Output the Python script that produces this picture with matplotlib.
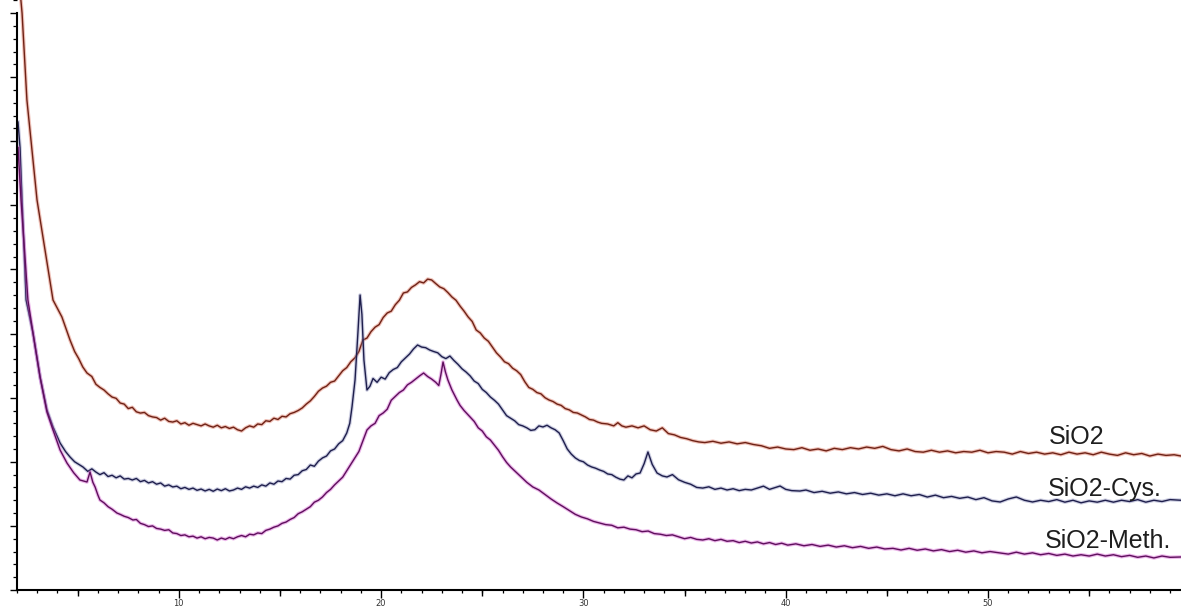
import numpy as np
import matplotlib
matplotlib.use("Agg")
import matplotlib.pyplot as plt
from matplotlib.ticker import MultipleLocator, NullFormatter

# ---------------- data (2-theta / counts) ----------------
tt_sio2 = [2.05, 2.25, 2.49, 2.99, 3.78, 4.22, 4.62, 4.85, 5.05, 5.25, 5.46, 5.7, 5.9,
           6.1, 6.3, 6.5, 6.7, 6.9, 7.1, 7.3, 7.5, 7.7, 7.9, 8.1, 8.3, 8.5, 8.7, 8.9,
           9.1, 9.3, 9.5, 9.7, 9.9, 10.1, 10.3, 10.5, 10.7, 10.9, 11.1, 11.3, 11.5,
           11.7, 11.9, 12.1, 12.3, 12.5, 12.7, 12.9, 13.1, 13.3, 13.5, 13.7, 13.9,
           14.1, 14.3, 14.5, 14.7, 14.9, 15.1, 15.3, 15.5, 15.7, 15.9, 16.1, 16.3,
           16.5, 16.7, 16.9, 17.1, 17.3, 17.5, 17.7, 17.9, 18.1, 18.3, 18.5, 18.7,
           18.9, 19.1, 19.3, 19.5, 19.7, 19.9, 20.1, 20.3, 20.5, 20.7, 20.9, 21.1,
           21.3, 21.5, 21.7, 21.9, 22.1, 22.3, 22.5, 22.7, 22.9, 23.1, 23.3, 23.5,
           23.7, 23.9, 24.1, 24.3, 24.5, 24.7, 24.9, 25.1, 25.3, 25.5, 25.7, 25.9,
           26.1, 26.3, 26.5, 26.7, 26.9, 27.1, 27.3, 27.5, 27.7, 27.9, 28.1, 28.3,
           28.5, 28.7, 28.9, 29.1, 29.3, 29.5, 29.7, 29.9, 30.1, 30.3, 30.5, 30.7,
           30.9, 31.2, 31.5, 31.7, 31.9, 32.1, 32.4, 32.7, 33.0, 33.3, 33.6, 33.9,
           34.2, 34.5, 34.8, 35.1, 35.4, 35.7, 36.0, 36.4, 36.8, 37.2, 37.6, 38.0,
           38.4, 38.8, 39.2, 39.6, 40.0, 40.4, 40.8, 41.2, 41.6, 42.0, 42.4, 42.8,
           43.2, 43.6, 44.0, 44.4, 44.8, 45.2, 45.6, 46.0, 46.4, 46.8, 47.2, 47.6,
           48.0, 48.4, 48.8, 49.2, 49.6, 50.0, 50.4, 50.8, 51.2, 51.6, 52.0, 52.4,
           52.8, 53.2, 53.6, 54.0, 54.4, 54.8, 55.2, 55.6, 56.0, 56.4, 56.8, 57.2,
           57.6, 58.0, 58.4, 58.8, 59.2, 59.54]
i_sio2 = [9700, 9001, 7644, 6084, 4524, 4259, 3900, 3720, 3610, 3480, 3385, 3330, 3210,
          3160, 3120, 3060, 3010, 2990, 2917, 2900, 2830, 2850, 2780, 2760, 2770, 2720,
          2700, 2690, 2650, 2680, 2630, 2620, 2640, 2590, 2610, 2570, 2600, 2580, 2560,
          2590, 2560, 2540, 2570, 2530, 2550, 2520, 2540, 2500, 2480, 2530, 2560, 2540,
          2590, 2580, 2640, 2630, 2680, 2660, 2710, 2700, 2750, 2770, 2800, 2840, 2900,
          2950, 3020, 3100, 3150, 3180, 3240, 3260, 3340, 3420, 3470, 3560, 3620, 3720,
          3900, 3930, 4030, 4100, 4140, 4250, 4321, 4350, 4450, 4520, 4633, 4650, 4720,
          4760, 4810, 4790, 4850, 4836, 4780, 4727, 4700, 4640, 4571, 4520, 4430, 4350,
          4260, 4190, 4056, 4010, 3930, 3880, 3790, 3700, 3635, 3560, 3530, 3460, 3420,
          3360, 3250, 3160, 3130, 3080, 3060, 3000, 2964, 2940, 2900, 2880, 2830, 2810,
          2770, 2761, 2730, 2700, 2660, 2650, 2620, 2600, 2590, 2560, 2610, 2560, 2540,
          2560, 2530, 2560, 2500, 2480, 2530, 2440, 2420, 2380, 2360, 2330, 2310, 2300,
          2320, 2290, 2310, 2280, 2300, 2270, 2250, 2210, 2230, 2200, 2190, 2220, 2180,
          2200, 2170, 2210, 2190, 2220, 2200, 2230, 2210, 2240, 2190, 2170, 2200, 2160,
          2150, 2180, 2150, 2170, 2140, 2160, 2150, 2180, 2140, 2160, 2150, 2120, 2160,
          2130, 2150, 2120, 2140, 2110, 2150, 2120, 2140, 2110, 2150, 2120, 2100, 2140,
          2110, 2130, 2090, 2120, 2100, 2110, 2090]

tt_cys = [2.05, 2.15, 2.25, 2.45, 2.79, 3.14, 3.48, 3.78, 4.13, 4.4, 4.62, 4.85, 5.05,
          5.26, 5.5, 5.7, 5.9, 6.1, 6.3, 6.5, 6.7, 6.9, 7.1, 7.3, 7.5, 7.7, 7.9, 8.1,
          8.3, 8.5, 8.7, 8.9, 9.1, 9.3, 9.5, 9.7, 9.9, 10.1, 10.3, 10.5, 10.7, 10.9,
          11.1, 11.3, 11.5, 11.7, 11.9, 12.1, 12.3, 12.5, 12.7, 12.9, 13.1, 13.3, 13.5,
          13.7, 13.9, 14.1, 14.3, 14.5, 14.7, 14.9, 15.1, 15.3, 15.5, 15.7, 15.9, 16.1,
          16.3, 16.5, 16.7, 16.9, 17.1, 17.3, 17.5, 17.7, 17.9, 18.1, 18.3, 18.45,
          18.56, 18.71, 18.85, 18.96, 19.05, 19.15, 19.3, 19.45, 19.6, 19.8, 20.0,
          20.2, 20.4, 20.6, 20.8, 21.0, 21.2, 21.4, 21.6, 21.8, 22.0, 22.2, 22.4, 22.6,
          22.8, 23.0, 23.2, 23.4, 23.6, 23.8, 24.0, 24.2, 24.4, 24.6, 24.8, 25.0, 25.2,
          25.4, 25.6, 25.8, 26.0, 26.2, 26.4, 26.6, 26.8, 27.0, 27.2, 27.4, 27.6, 27.8,
          28.0, 28.2, 28.4, 28.6, 28.8, 29.0, 29.2, 29.4, 29.6, 29.8, 30.0, 30.2, 30.4,
          30.6, 30.8, 31.0, 31.2, 31.4, 31.6, 31.8, 32.0, 32.2, 32.4, 32.6, 32.8, 33.0,
          33.19, 33.4, 33.64, 33.9, 34.13, 34.4, 34.7, 35.0, 35.3, 35.6, 35.9, 36.2,
          36.5, 36.8, 37.1, 37.4, 37.7, 38.0, 38.3, 38.6, 38.9, 39.2, 39.5, 39.72,
          40.0, 40.3, 40.7, 41.0, 41.4, 41.8, 42.2, 42.6, 43.0, 43.4, 43.8, 44.2, 44.6,
          45.0, 45.4, 45.8, 46.2, 46.6, 47.0, 47.4, 47.8, 48.2, 48.6, 49.0, 49.4, 49.8,
          50.2, 50.6, 51.0, 51.4, 51.8, 52.2, 52.6, 53.0, 53.4, 53.8, 54.2, 54.6, 55.0,
          55.4, 55.8, 56.2, 56.6, 57.0, 57.4, 57.8, 58.2, 58.6, 59.0, 59.54]
i_cys = [7300, 6900, 6084, 4524, 4009, 3323, 2808, 2543, 2293, 2160, 2075, 2000, 1960,
         1919, 1850, 1890, 1840, 1800, 1830, 1770, 1790, 1750, 1780, 1730, 1740, 1716,
         1740, 1690, 1710, 1670, 1690, 1650, 1670, 1620, 1640, 1607, 1620, 1580, 1600,
         1570, 1590, 1555, 1575, 1545, 1570, 1540, 1575, 1550, 1580, 1545, 1560, 1590,
         1570, 1610, 1590, 1620, 1600, 1640, 1620, 1670, 1650, 1700, 1690, 1740, 1730,
         1790, 1800, 1860, 1880, 1950, 1930, 2010, 2060, 2090, 2170, 2200, 2280, 2330,
         2449, 2600, 2855, 3276, 4000, 4602, 4300, 3588, 3120, 3180, 3300, 3240, 3320,
         3290, 3390, 3440, 3470, 3560, 3620, 3680, 3760, 3822, 3790, 3780, 3744, 3720,
         3700, 3640, 3610, 3650, 3580, 3520, 3450, 3400, 3340, 3260, 3220, 3130, 3080,
         3011, 2960, 2900, 2810, 2720, 2680, 2640, 2580, 2560, 2530, 2490, 2500, 2560,
         2543, 2570, 2530, 2500, 2450, 2330, 2200, 2120, 2060, 2020, 2000, 1950, 1920,
         1900, 1872, 1850, 1810, 1800, 1760, 1730, 1716, 1780, 1750, 1810, 1825, 1970,
         2153, 1960, 1825, 1780, 1763, 1800, 1720, 1680, 1650, 1600, 1590, 1610, 1570,
         1590, 1560, 1580, 1550, 1570, 1560, 1590, 1620, 1570, 1600, 1622, 1570, 1550,
         1544, 1560, 1520, 1540, 1510, 1530, 1500, 1520, 1490, 1510, 1480, 1500, 1470,
         1500, 1470, 1490, 1450, 1480, 1440, 1460, 1430, 1450, 1410, 1440, 1390, 1373,
         1420, 1451, 1400, 1373, 1400, 1380, 1410, 1370, 1400, 1360, 1390, 1370, 1400,
         1370, 1400, 1380, 1410, 1370, 1400, 1380, 1410, 1400]

tt_meth = [2.05, 2.20, 2.54, 2.79, 3.14, 3.48, 3.78, 4.13, 4.47, 4.8, 5.11, 5.3, 5.46,
           5.61, 5.75, 5.86, 6.0, 6.1, 6.3, 6.5, 6.7, 6.94, 7.1, 7.3, 7.5, 7.73, 7.9,
           8.1, 8.3, 8.5, 8.7, 8.9, 9.1, 9.3, 9.5, 9.7, 9.9, 10.1, 10.3, 10.5, 10.7,
           10.9, 11.1, 11.3, 11.5, 11.7, 11.9, 12.1, 12.3, 12.5, 12.7, 12.9, 13.1, 13.3,
           13.5, 13.7, 13.9, 14.1, 14.3, 14.5, 14.7, 14.9, 15.1, 15.3, 15.5, 15.7, 15.9,
           16.1, 16.3, 16.5, 16.7, 16.9, 17.1, 17.3, 17.5, 17.7, 17.9, 18.1, 18.3, 18.5,
           18.7, 18.9, 19.1, 19.3, 19.5, 19.7, 19.9, 20.1, 20.3, 20.5, 20.7, 20.9, 21.1,
           21.3, 21.5, 21.7, 21.9, 22.1, 22.3, 22.5, 22.7, 22.85, 22.95, 23.06, 23.18,
           23.3, 23.5, 23.75, 23.9, 24.1, 24.4, 24.6, 24.8, 25.0, 25.2, 25.4, 25.6,
           25.8, 26.0, 26.2, 26.4, 26.6, 26.8, 27.0, 27.2, 27.5, 27.8, 28.1, 28.4,
           28.7, 29.0, 29.3, 29.6, 29.9, 30.2, 30.5, 30.8, 31.1, 31.4, 31.7, 32.0,
           32.3, 32.6, 32.9, 33.2, 33.5, 33.8, 34.1, 34.4, 34.7, 35.0, 35.3, 35.6,
           35.9, 36.2, 36.5, 36.8, 37.1, 37.4, 37.7, 38.0, 38.3, 38.6, 38.9, 39.2,
           39.5, 39.8, 40.1, 40.5, 40.9, 41.3, 41.7, 42.1, 42.5, 42.9, 43.3, 43.7,
           44.1, 44.5, 44.9, 45.3, 45.7, 46.1, 46.5, 46.9, 47.3, 47.7, 48.1, 48.5,
           48.9, 49.3, 49.7, 50.1, 50.6, 51.0, 51.4, 51.8, 52.2, 52.6, 53.0, 53.4,
           53.8, 54.2, 54.6, 55.0, 55.4, 55.8, 56.2, 56.6, 57.0, 57.4, 57.8, 58.2,
           58.6, 59.0, 59.54]
i_meth = [6900, 6084, 4524, 4009, 3323, 2777, 2496, 2184, 1981, 1830, 1716, 1700, 1685,
          1841, 1680, 1607, 1480, 1404, 1360, 1300, 1260, 1201, 1180, 1150, 1130, 1092,
          1100, 1040, 1020, 990, 1000, 960, 950, 930, 940, 890, 880, 850, 860, 830, 840,
          810, 830, 800, 820, 810, 780, 810, 790, 820, 800, 830, 850, 830, 870, 860, 890,
          880, 930, 950, 980, 1000, 1040, 1060, 1100, 1130, 1190, 1220, 1260, 1300, 1370,
          1400, 1451, 1520, 1570, 1640, 1700, 1760, 1860, 1960, 2060, 2160, 2330, 2496,
          2560, 2600, 2720, 2761, 2820, 2960, 3020, 3080, 3120, 3200, 3240, 3290, 3340,
          3385, 3330, 3290, 3240, 3190, 3350, 3557, 3400, 3276, 3120, 2964, 2880, 2800,
          2699, 2630, 2530, 2480, 2390, 2340, 2260, 2180, 2080, 1990, 1919, 1860, 1800,
          1740, 1680, 1607, 1560, 1490, 1420, 1357, 1300, 1240, 1180, 1139, 1110, 1070,
          1045, 1020, 1010, 970, 980, 950, 940, 910, 920, 880, 870, 850, 860, 830, 800,
          820, 790, 780, 800, 770, 790, 760, 770, 740, 760, 733, 750, 720, 740, 710, 730,
          700, 720, 690, 710, 680, 700, 670, 690, 660, 680, 650, 670, 640, 650, 624, 650,
          620, 640, 610, 630, 600, 620, 590, 610, 580, 600, 577, 560, 590, 560, 580, 550,
          570, 540, 560, 530, 550, 530, 560, 530, 550, 520, 540, 510, 530, 500, 530, 510,
          515]

names = ["SiO2", "SiO2-Cys.", "SiO2-Meth."]
label_x = [53.0, 52.95, 52.8]
label_y = [2278, 1466, 655]

# ---------------- figure ----------------
fig = plt.figure(figsize=(11.81, 6.08), dpi=100)
ax = fig.add_axes([17 / 1181, 18 / 608, 1 - 17 / 1181, 590 / 608])

series = [(tt_sio2, i_sio2, "#6e2216", "#d8644e"),
          (tt_cys, i_cys, "#1e1e4c", "#8286b6"),
          (tt_meth, i_meth, "#5e0f5c", "#d04ccc")]
for tt, inten, core, halo in series:
    ax.plot(tt, inten, color=halo, lw=2.6, alpha=0.4, solid_joinstyle="round")
    ax.plot(tt, inten, color=core, lw=1.0, solid_joinstyle="round")

for name, lx, ly in zip(names, label_x, label_y):
    ax.text(lx, ly, name, fontsize=18, family=["Liberation Sans", "DejaVu Sans"],
            color="#1e1e1e", va="baseline", ha="left")

ax.set_xlim(2.0, 59.54)
ax.set_ylim(0, 9204)

for s in ["top", "right"]:
    ax.spines[s].set_visible(False)
ax.spines["left"].set_bounds(0, 9000)
ax.spines["left"].set_linewidth(1.5)
ax.spines["bottom"].set_linewidth(1.5)

ax.xaxis.set_major_locator(MultipleLocator(10))
ax.xaxis.set_minor_locator(MultipleLocator(1))
ax.yaxis.set_major_locator(MultipleLocator(1000))
ax.yaxis.set_minor_locator(MultipleLocator(200))
ax.yaxis.set_major_formatter(NullFormatter())
ax.tick_params(axis="x", which="major", length=5.5, width=1.0, pad=1,
               labelsize=6, labelcolor="#333333", direction="out")
ax.tick_params(axis="x", which="minor", length=2.5, width=0.9, direction="out")
ax.tick_params(axis="y", which="major", length=5, width=1.0, direction="out")
ax.tick_params(axis="y", which="minor", length=3, width=0.9, direction="out")

# medium ticks at every 5 degrees
sec = ax.secondary_xaxis("bottom")
sec.set_xticks([5, 15, 25, 35, 45, 55])
sec.set_xticklabels([])
sec.tick_params(length=4, width=1.0, direction="out")
sec.spines["bottom"].set_visible(False)

fig.savefig("out.png", dpi=100, facecolor="white")
